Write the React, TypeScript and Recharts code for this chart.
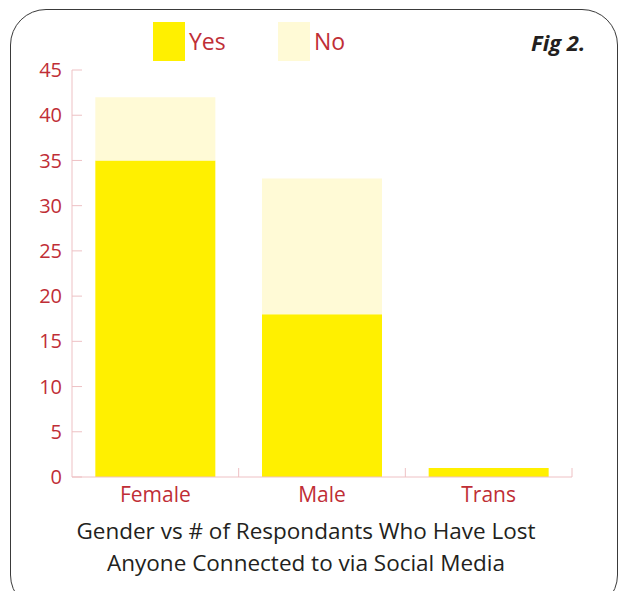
import { BarChart, Bar, XAxis, YAxis, Legend } from "recharts";

const categories = ["Female", "Male", "Trans"];
const yesValues = [35, 18, 1];
const noValues = [7, 15, 0];
const yTicks = [0, 5, 10, 15, 20, 25, 30, 35, 40, 45];

const YES_COLOR = "#fff000";
const NO_COLOR = "#fffad6";
const RED = "#bf2e36";
const AXIS = "#eec1c4";
const FONT = "'Open Sans', 'Liberation Sans', sans-serif";

const data = categories.map((name, i) => ({
  name,
  yes: yesValues[i],
  no: noValues[i],
}));

// category label plus the small inward tick at the right edge of each band
function CategoryTick(props: any) {
  const { x, y, payload, width, visibleTicksCount } = props;
  const half =
    payload && typeof payload.offset === "number" && payload.offset > 0
      ? payload.offset
      : width / visibleTicksCount / 2;
  return (
    <g>
      <line x1={x + half} x2={x + half} y1={y - 9} y2={y} stroke={AXIS} strokeWidth={1} />
      <text
        x={x}
        y={y + 25}
        textAnchor="middle"
        fill={RED}
        fontSize={21}
        fontFamily={FONT}
      >
        {payload.value}
      </text>
    </g>
  );
}

function LegendBox() {
  const items = [
    { label: "Yes", color: YES_COLOR, left: 0 },
    { label: "No", color: NO_COLOR, left: 125 },
  ];
  return (
    <div style={{ position: "relative", height: 40, width: 200 }}>
      {items.map((it) => (
        <div
          key={it.label}
          style={{ position: "absolute", left: it.left, top: 0, display: "flex", alignItems: "center" }}
        >
          <div style={{ width: 32, height: 39, background: it.color }} />
          <span
            style={{
              marginLeft: 4,
              color: RED,
              fontSize: 23,
              fontFamily: FONT,
              lineHeight: "39px",
            }}
          >
            {it.label}
          </span>
        </div>
      ))}
    </div>
  );
}

export default function App() {
  return (
    <div
      style={{
        position: "absolute",
        left: 0,
        top: 0,
        width: 618,
        height: 591,
        overflow: "hidden",
        background: "#fff",
      }}
    >
      <div
        style={{
          position: "absolute",
          left: 10,
          top: 9,
          width: 606,
          height: 600,
          border: "1.5px solid #3a3a3a",
          borderRadius: 36,
        }}
      />
      <div
        style={{
          position: "absolute",
          left: 531,
          top: 27,
          fontFamily: FONT,
          fontWeight: 700,
          fontStyle: "italic",
          fontSize: 22,
          color: "#231f20",
        }}
      >
        Fig 2.
      </div>
      <div style={{ position: "absolute", left: 0, top: 0 }}>
        <BarChart
          width={618}
          height={591}
          data={data}
          barCategoryGap="14%"
          margin={{ top: 30, right: 46, bottom: 84, left: 32 }}
        >
          <YAxis
            width={40}
            domain={[0, 45]}
            ticks={yTicks}
            interval={0}
            tickSize={-10}
            tickMargin={20}
            axisLine={{ stroke: AXIS }}
            tickLine={{ stroke: AXIS }}
            tick={{ fill: RED, fontSize: 20, fontFamily: FONT }}
          />
          <XAxis
            dataKey="name"
            height={30}
            tickSize={0}
            tickMargin={0}
            tickLine={false}
            interval={0}
            axisLine={{ stroke: AXIS }}
            tick={<CategoryTick />}
          />
          <Legend
            verticalAlign="top"
            align="left"
            content={() => <LegendBox />}
            wrapperStyle={{ top: 22, left: 153, width: 220, height: 40 }}
          />
          <Bar dataKey="yes" name="Yes" stackId="a" fill={YES_COLOR} isAnimationActive={false} />
          <Bar dataKey="no" name="No" stackId="a" fill={NO_COLOR} isAnimationActive={false} />
        </BarChart>
      </div>
      <div
        style={{
          position: "absolute",
          left: 0,
          width: 612,
          top: 515,
          textAlign: "center",
          fontFamily: FONT,
          fontSize: 22.5,
          lineHeight: "32px",
          color: "#231f20",
        }}
      >
        Gender vs # of Respondants Who Have Lost
        <br />
        Anyone Connected to via Social Media
      </div>
    </div>
  );
}
